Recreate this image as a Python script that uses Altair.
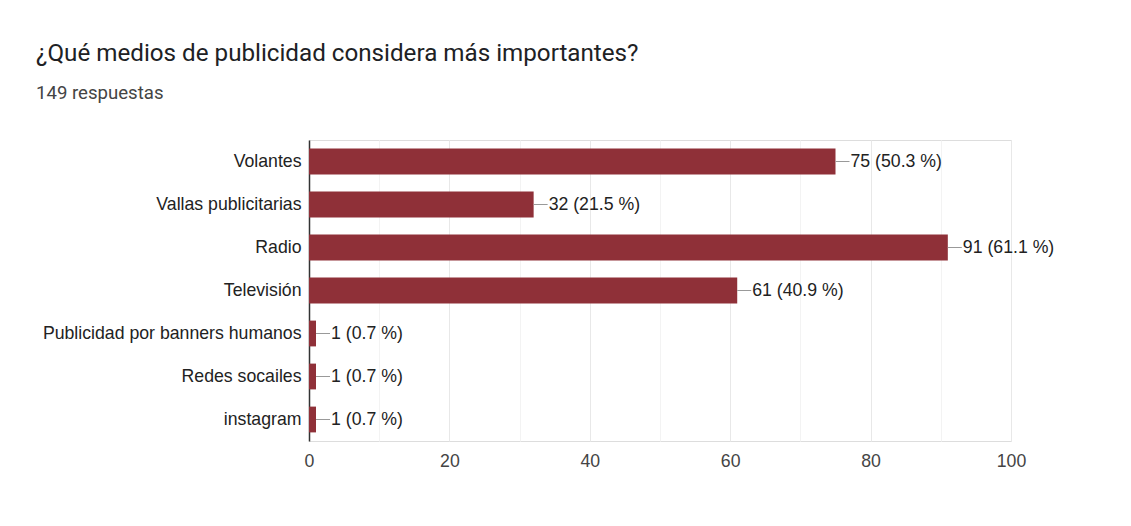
import altair as alt
import pandas as pd

categories = ["Volantes", "Vallas publicitarias", "Radio", "Televisión",
              "Publicidad por banners humanos", "Redes socailes", "instagram"]
counts = [75, 32, 91, 61, 1, 1, 1]
percents = ["50.3", "21.5", "61.1", "40.9", "0.7", "0.7", "0.7"]
x_ticks = [0, 10, 20, 30, 40, 50, 60, 70, 80, 90, 100]

df = pd.DataFrame({
    "cat": categories,
    "n": counts,
    "label": [f"{c} ({p} %)" for c, p in zip(counts, percents)],
})

FONT = "Liberation Sans"
BAR = "#8f3038"
FS = 17.7

y_enc = alt.Y("cat:N", sort=categories, title=None,
              scale=alt.Scale(paddingInner=0.4, paddingOuter=0.2),
              axis=alt.Axis(domainColor="#333333", domainWidth=1.5, ticks=False,
                            labelPadding=8, labelFontSize=FS, labelColor="#222222",
                            labelFont=FONT, grid=False, labelLimit=400))
x_enc = alt.X("n:Q", title=None,
              scale=alt.Scale(domain=[0, 100], nice=False),
              axis=alt.Axis(values=x_ticks, domain=False, ticks=False, labelFlush=False,
                            labelExpr="datum.value % 20 === 0 ? datum.label : ''",
                            labelPadding=11, labelFontSize=FS, labelColor="#444444",
                            labelFont=FONT,
                            gridColor={"condition": {"test": "datum.value % 20 === 0", "value": "#e8e8e8"},
                                       "value": "#f3f3f3"},
                            gridWidth=1))

bars = alt.Chart(df).mark_bar(color=BAR).encode(x=x_enc, y=y_enc)

connectors = alt.Chart(df).mark_rule(color="#999999", strokeWidth=1, x2Offset=14).encode(
    x="n:Q", x2="n:Q", y=alt.Y("cat:N", sort=categories))

texts = alt.Chart(df).mark_text(align="left", baseline="middle", dx=15, fontSize=FS,
                                font=FONT, color="#222222").encode(
    x="n:Q", y=alt.Y("cat:N", sort=categories), text="label:N")

chart = alt.layer(bars, connectors, texts).properties(
    width=702, height=301,
    autosize=alt.AutoSizeParams(type="none"),
    padding={"left": 309, "top": 140, "right": 120, "bottom": 85},
    title=alt.TitleParams(
        text="¿Qué medios de publicidad considera más importantes?",
        subtitle="149 respuestas",
        anchor="start", frame="group", dx=-273, offset=37,
        font="Roboto", fontSize=24.2, fontWeight="normal", color="#202124",
        subtitleFont="Roboto", subtitleFontSize=18.6, subtitleColor="#444444",
        subtitlePadding=18),
).configure_view(stroke="#eeeeee").configure(background="white")

chart.save("out.html", embed_options={"renderer": "svg", "actions": False})
